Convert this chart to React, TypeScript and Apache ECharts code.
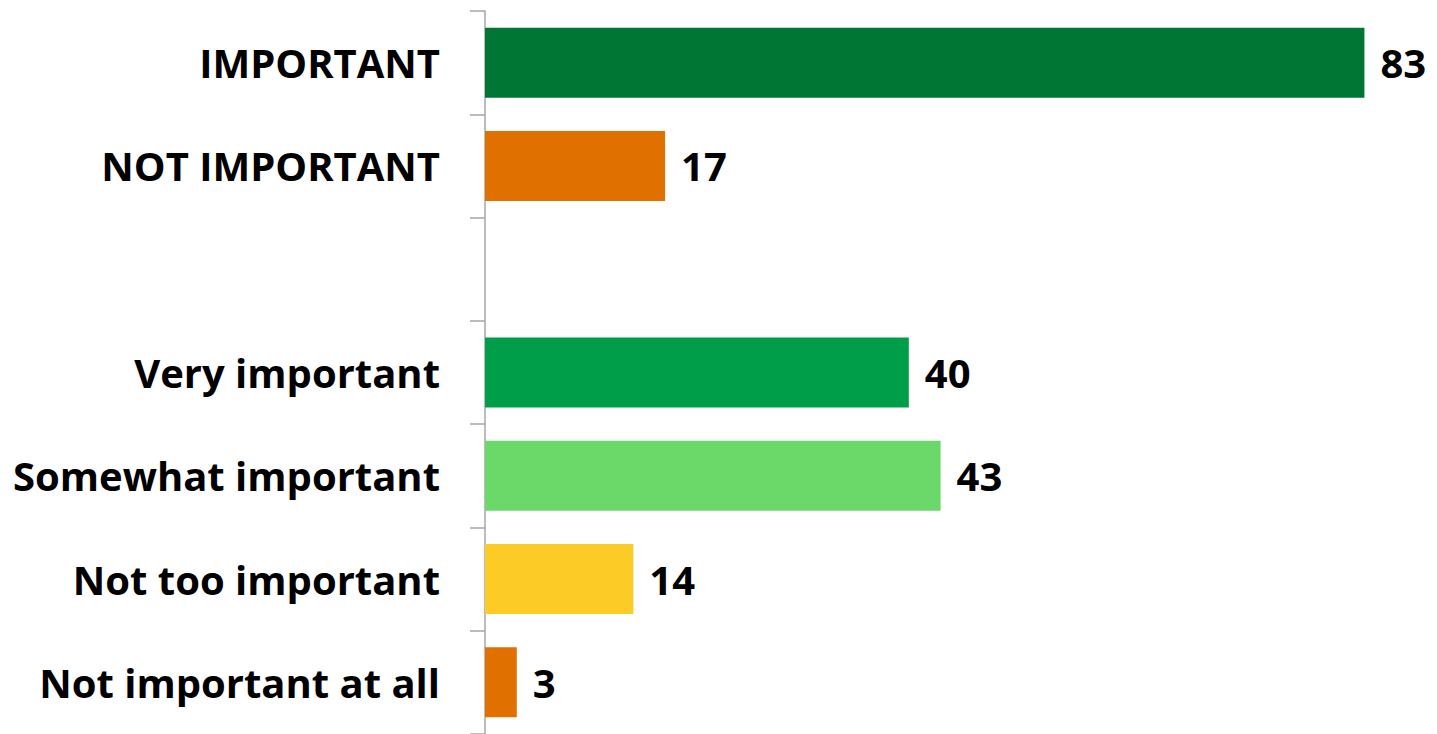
import React, { useEffect, useRef } from "react";
import * as echarts from "echarts";

const categories = [
  "IMPORTANT",
  "NOT IMPORTANT",
  "",
  "Very important",
  "Somewhat important",
  "Not too important",
  "Not important at all",
];
const values: (number | null)[] = [83, 17, null, 40, 43, 14, 3];
const barColors = ["#007634", "#E07000", "#ffffff", "#009E49", "#6AD96A", "#FDCB25", "#E07000"];

const FONT = "'Open Sans', sans-serif";

export default function App() {
  const ref = useRef<HTMLDivElement>(null);
  useEffect(() => {
    if (!ref.current) return;
    const chart = echarts.init(ref.current, null, { renderer: "svg" });
    chart.setOption({
      animation: false,
      backgroundColor: "#ffffff",
      grid: { left: 485, top: 11, width: 943, height: 728, containLabel: false },
      xAxis: {
        type: "value",
        min: 0,
        max: 89,
        show: false,
      },
      yAxis: {
        type: "category",
        inverse: true,
        data: categories,
        axisLine: { show: true, lineStyle: { color: "#A6A6A6", width: 1.5 } },
        axisTick: { show: true, length: 15, lineStyle: { color: "#A6A6A6", width: 1.5 } },
        axisLabel: {
          margin: 45,
          color: "#000000",
          fontFamily: FONT,
          fontWeight: "bold",
          fontSize: 40,
        },
      },
      series: [
        {
          type: "bar",
          barWidth: 70,
          data: values.map((v, i) => ({ value: v, itemStyle: { color: barColors[i] } })),
          label: {
            show: true,
            position: "right",
            distance: 16,
            color: "#000000",
            fontFamily: FONT,
            fontWeight: "bold",
            fontSize: 40,
          },
        },
      ],
    });
    return () => chart.dispose();
  }, []);
  return <div ref={ref} style={{ position: "fixed", left: 0, top: 0, width: 1437, height: 734 }} />;
}
